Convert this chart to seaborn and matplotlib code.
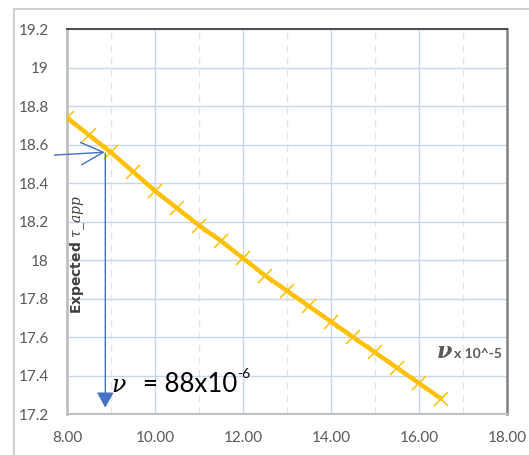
import numpy as np
import pandas as pd
import seaborn as sns
import matplotlib.pyplot as plt
from matplotlib.lines import Line2D
from matplotlib.ticker import FixedLocator, FormatStrFormatter

# values
nu_vals = [8.0, 8.5, 9.0, 9.5, 10.0, 10.5, 11.0, 11.5, 12.0,
           12.5, 13.0, 13.5, 14.0, 14.5, 15.0, 15.5, 16.0, 16.5]
tau_vals = [18.74, 18.65, 18.56, 18.46, 18.36, 18.27, 18.18, 18.10, 18.01,
            17.92, 17.84, 17.76, 17.68, 17.60, 17.52, 17.44, 17.36, 17.28]
x_ticks = [8, 10, 12, 14, 16, 18]
x_minor = [9, 11, 13, 15, 17]
y_ticks = [17.2, 17.4, 17.6, 17.8, 18.0, 18.2, 18.4, 18.6, 18.8, 19.0, 19.2]
nu_pick = 8.87
tau_pick = 18.556

sns.set_theme(style="white")
plt.rcParams['font.family'] = ['Lato', 'DejaVu Sans']

gold = '#FFC000'
blue = '#4472C4'
grey_txt = '#595959'

df = pd.DataFrame({'nu': nu_vals, 'tau': tau_vals})

fig = plt.figure(figsize=(5.29, 4.55), dpi=100)
ax = fig.add_axes([0.1267, 0.0901, 0.8318, 0.8455])

# grid
ax.set_xlim(8, 18)
ax.set_ylim(17.2, 19.2)
ax.set_xticks(x_ticks)
ax.set_yticks(y_ticks)
ax.xaxis.set_minor_locator(FixedLocator(x_minor))
ax.xaxis.set_major_formatter(FormatStrFormatter('%.2f'))
ax.yaxis.set_major_formatter(plt.FuncFormatter(lambda v, p: f"{v:g}"))
ax.grid(which='major', color='#c9d6ef', linewidth=1.0)
ax.grid(which='minor', axis='x', color='#e4e4e4', linewidth=1.0, linestyle=(0, (5, 4)))
ax.set_axisbelow(True)

sns.lineplot(data=df, x='nu', y='tau', ax=ax, color=gold, linewidth=3.2,
             marker='x', markersize=10, markeredgewidth=1.1,
             markeredgecolor=gold, zorder=3)

ax.set_xlabel('')
ax.set_ylabel('')
ax.tick_params(axis='both', which='both', length=0, labelsize=11, labelcolor=grey_txt)
ax.tick_params(axis='y', pad=13)
ax.tick_params(axis='x', pad=12)

ax.spines['top'].set_color('#404040')
ax.spines['top'].set_linewidth(1.3)
ax.spines['right'].set_color('#808080')
ax.spines['right'].set_linewidth(1.8)
ax.spines['left'].set_color('#c0c0c0')
ax.spines['left'].set_linewidth(2)
ax.spines['bottom'].set_color('#c0c0c0')
ax.spines['bottom'].set_linewidth(1.5)

# arrows
ax.annotate('', xy=(nu_pick - 0.01, tau_pick + 0.005), xytext=(7.71, 18.546),
            arrowprops=dict(arrowstyle='->,head_length=0.8,head_width=0.4',
                            color=blue, lw=1, shrinkA=0, shrinkB=0,
                            mutation_scale=20),
            annotation_clip=False, clip_on=False, zorder=4)
ax.annotate('', xy=(nu_pick, 17.233), xytext=(nu_pick, tau_pick),
            arrowprops=dict(arrowstyle='-|>,head_length=0.47,head_width=0.26',
                            color=blue, lw=1, shrinkA=0, shrinkB=0,
                            mutation_scale=20),
            zorder=4)

# texts
ax.text(8.24, 18.03, r"Expected $\tau\_app$", rotation=90, ha='center', va='center',
        fontsize=10, fontweight='bold', color='#404040',
        family='DejaVu Sans', math_fontfamily='dejavuserif')
ax.text(9.0, 17.316, r"$\nu$", ha='left', va='baseline',
        fontsize=17, color='black', math_fontfamily='dejavuserif')
ax.text(9.73, 17.316, "= 88x10", ha='left', va='baseline',
        fontsize=18.5, color='black')
ax.text(11.86, 17.385, "-6", ha='left', va='baseline',
        fontsize=10, color='black')
ax.text(16.38, 17.49, r"$\boldsymbol{\nu}$", ha='left', va='baseline', fontsize=16,
        color=grey_txt, math_fontfamily='dejavuserif')
ax.text(16.80, 17.49, "x 10^-5", ha='left', va='baseline', fontsize=10,
        fontweight='bold', color=grey_txt)

# chart frame
fig.add_artist(Line2D([14 / 529, 14 / 529], [0, 1 - 9 / 455], transform=fig.transFigure,
                      color='#d0d0d0', linewidth=1.5))
fig.add_artist(Line2D([14 / 529, 1], [1 - 9 / 455, 1 - 9 / 455], transform=fig.transFigure,
                      color='#d0d0d0', linewidth=1.5))

fig.savefig('out.png', dpi=100)
